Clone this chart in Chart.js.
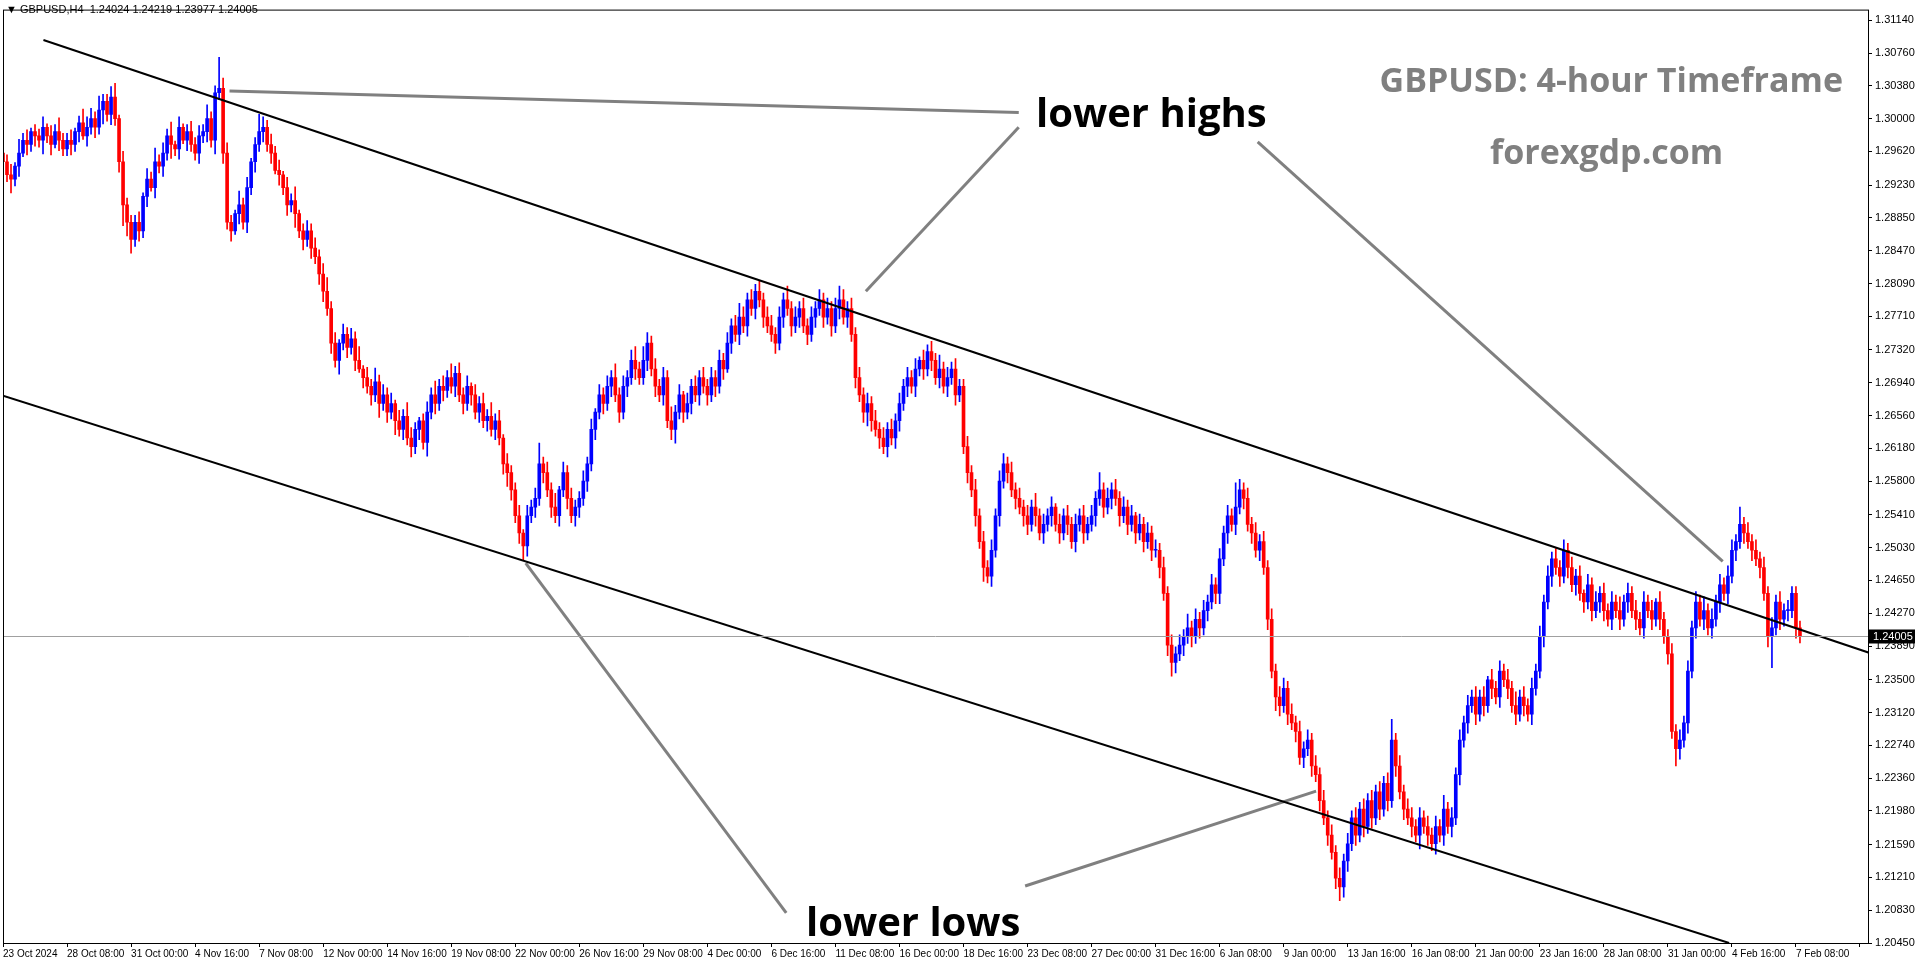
<!DOCTYPE html>
<html>
<head>
<meta charset="utf-8">
<script src="https://cdn.jsdelivr.net/npm/chart.js@4.4.1/dist/chart.umd.min.js"></script>
<style>
  html, body { margin: 0; padding: 0; background: #fff; overflow: hidden; }
  #wrap { position: relative; width: 1916px; height: 964px; }
  .lbl { position: absolute; font-family: "Open Sans", "DejaVu Sans", sans-serif; font-weight: bold; white-space: nowrap; }
  #hdr { position: absolute; left: 6px; top: 3px; font: 11px "Liberation Sans", sans-serif; color: #000; }
</style>
</head>
<body>
<div id="wrap">
  <canvas id="chart"></canvas>
  <div id="hdr">&#9660; GBPUSD,H4&nbsp; 1.24024 1.24219 1.23977 1.24005</div>
  <div class="lbl" style="left:1036px; top:84px; font-size:40px; color:#000;">lower highs</div>
  <div class="lbl" style="left:806px; top:893px; font-size:40px; color:#000;">lower lows</div>
  <div class="lbl" style="right:73px; top:56px; font-size:34px; color:#808080;">GBPUSD: 4-hour Timeframe</div>
  <div class="lbl" style="left:1490px; top:128px; font-size:34px; color:#808080;">forexgdp.com</div>
</div>
<script>
// ---- data (closes in pips, 1 pip = 0.0001) ----
const firstOpen = 12960;
const closes = [
  12950,12935,12930,12945,12960,12975,12970,12985,12980,12975,12990,12980,12970,12985,12975,12965,
  12975,12970,12985,12995,12980,12990,13000,12990,13010,13020,13005,13025,13000,12950,12900,12880,
  12860,12880,12870,12910,12930,12920,12950,12945,12960,12980,12970,12965,12990,12975,12985,12970,
  12960,12980,12985,13000,12975,13030,13035,12960,12880,12870,12890,12900,12880,12920,12950,12970,
  12985,12990,12970,12960,12940,12935,12920,12900,12905,12890,12870,12860,12870,12850,12840,12820,
  12800,12780,12740,12720,12740,12750,12735,12745,12720,12710,12700,12690,12680,12695,12670,12680,
  12660,12670,12650,12640,12655,12630,12620,12640,12650,12625,12660,12680,12670,12690,12685,12700,
  12690,12705,12680,12670,12690,12680,12660,12670,12650,12655,12640,12650,12630,12600,12590,12570,
  12540,12520,12505,12540,12550,12560,12600,12590,12570,12550,12540,12570,12590,12560,12540,12550,
  12560,12580,12600,12640,12660,12680,12670,12690,12700,12680,12660,12690,12700,12720,12710,12700,
  12720,12740,12710,12690,12680,12700,12650,12640,12660,12680,12660,12670,12690,12680,12700,12690,
  12680,12700,12690,12720,12710,12740,12760,12750,12770,12760,12790,12780,12800,12790,12770,12760,
  12750,12740,12770,12790,12780,12760,12770,12780,12760,12750,12770,12780,12790,12770,12780,12760,
  12780,12790,12770,12780,12750,12700,12680,12660,12670,12650,12640,12630,12620,12640,12630,12650,
  12670,12690,12700,12690,12710,12720,12710,12730,12720,12700,12710,12690,12700,12710,12680,12690,
  12620,12590,12570,12540,12510,12480,12470,12500,12540,12580,12600,12590,12570,12560,12550,12540,
  12530,12550,12540,12520,12530,12540,12550,12530,12520,12540,12530,12510,12530,12540,12520,12530,
  12540,12560,12570,12550,12560,12570,12560,12540,12550,12530,12540,12520,12530,12510,12520,12500,
  12500,12480,12450,12390,12370,12380,12390,12400,12410,12400,12420,12410,12430,12440,12460,12450,
  12490,12520,12540,12530,12550,12570,12560,12530,12520,12500,12510,12480,12420,12360,12330,12320,
  12340,12310,12300,12290,12260,12270,12280,12250,12240,12210,12190,12170,12150,12120,12110,12140,
  12160,12190,12170,12200,12180,12210,12190,12220,12200,12230,12210,12280,12250,12220,12200,12190,
  12180,12170,12190,12180,12170,12160,12180,12170,12200,12180,12190,12240,12280,12300,12320,12330,
  12310,12330,12320,12350,12340,12330,12360,12350,12340,12320,12310,12330,12320,12310,12340,12360,
  12400,12440,12470,12490,12480,12470,12500,12480,12460,12470,12450,12440,12460,12430,12440,12450,
  12430,12420,12440,12430,12420,12440,12450,12430,12420,12410,12440,12430,12420,12440,12420,12400,
  12380,12290,12270,12280,12300,12360,12410,12440,12420,12430,12410,12420,12440,12460,12450,12470,
  12500,12510,12530,12520,12510,12500,12490,12480,12450,12400,12410,12440,12420,12430,12430,12450,
  12410,12400.5
];
// wick lengths per bar, each digit = 4 pips
const upWicks =
  "3231423122313242" + "2312433242234132" + "2231324232413123" + "2324229332142312" +
  "5323231324123232" + "3423132324132423" + "2313243212324232" + "4232313232423132" +
  "2313236232413232" + "2323132324232342" + "4323232423132323" + "2323232343232323" +
  "3232423232323232" + "3432323232323232" + "3232313232423232" + "2323232323323232" +
  "3242323132323232" + "3252323232313232" + "3232323242323232" + "3232732323232323" +
  "3232323232323232" + "3232323232362323" + "3232323242323232" + "3231323232423232" +
  "3232323232313232" + "3232423232323132" + "2323232324232323" + "3252323232323232" + "22";
const downWicks =
  "3242313232423132" + "2323132324232364" + "4232313232423132" + "2323242323132323" +
  "2323132324232323" + "3232423231323242" + "3242323232423232" + "2323232323232343" +
  "2343232323232323" + "3232323232323232" + "2323232342323232" + "3232313232323232" +
  "2323232323232323" + "2323232343232323" + "3232323232323232" + "2323242323232323" +
  "3232323232323232" + "2323232323232323" + "2323432323232323" + "3232323232323243" +
  "2323232323232343" + "3232323232323232" + "3242323232323232" + "3232323232323232" +
  "2323232323232323" + "3232323232323232" + "3253232323232323" + "2323232323923232" + "32";

const xTickLabels = [
  "23 Oct 2024","28 Oct 08:00","31 Oct 00:00","4 Nov 16:00","7 Nov 08:00","12 Nov 00:00",
  "14 Nov 16:00","19 Nov 08:00","22 Nov 00:00","26 Nov 16:00","29 Nov 08:00","4 Dec 00:00",
  "6 Dec 16:00","11 Dec 08:00","16 Dec 00:00","18 Dec 16:00","23 Dec 08:00","27 Dec 00:00",
  "31 Dec 16:00","6 Jan 08:00","9 Jan 00:00","13 Jan 16:00","16 Jan 08:00","21 Jan 00:00",
  "23 Jan 16:00","28 Jan 08:00","31 Jan 00:00","4 Feb 16:00","7 Feb 08:00"
];
const yTickValues = [
  1.31140,1.30760,1.30380,1.30000,1.29620,1.29230,1.28850,1.28470,1.28090,1.27710,
  1.27320,1.26940,1.26560,1.26180,1.25800,1.25410,1.25030,1.24650,1.24270,1.23890,
  1.23500,1.23120,1.22740,1.22360,1.21980,1.21590,1.21210,1.20830,1.20450
];
const lastPrice = 1.24005;

// trend lines: [bar index, price]
const upperChannel = [[10.1, 1.3091], [466.4, 1.2381]];
const lowerChannel = [[0, 1.2679], [431.3, 1.2045]];
const grayLines = [
  [[56.6, 1.3032], [253.8, 1.3007]],
  [[253.8, 1.2990], [215.6, 1.2800]],
  [[313.5, 1.2973], [429.7, 1.2487]],
  [[130.6, 1.2485], [195.7, 1.2080]],
  [[255.4, 1.2111], [328.1, 1.2221]]
];

const barsPerLabel = 16;
const totalSlots = 467;

// ---- build candles ----
const wickData = [], bodyData = [], colors = [];
let prevClose = firstOpen;
closes.forEach((c, i) => {
  const o = prevClose;
  const up = Number(upWicks[i] || 2) * 4;
  const dn = Number(downWicks[i] || 2) * 4;
  const hi = Math.max(o, c) + up, lo = Math.min(o, c) - dn;
  wickData.push([lo / 10000, hi / 10000]);
  bodyData.push([o / 10000, c / 10000]);
  colors.push(c >= o ? '#0000ff' : '#ff0000');
  prevClose = c;
});

const labels = [];
for (let i = 0; i < totalSlots; i++) {
  labels.push(i % barsPerLabel === 0 ? (xTickLabels[i / barsPerLabel] || '') : '');
}

const lineSet = (pts, color, width) => ({
  type: 'line',
  xAxisID: 'xl',
  data: pts.map(p => ({ x: p[0], y: p[1] })),
  borderColor: color,
  borderWidth: width,
  pointRadius: 0,
  order: 0
});

const frame = {
  id: 'frame',
  afterDatasetsDraw(chart) {
    const { ctx, chartArea: a, scales } = chart;
    const y = Math.round(scales.y.getPixelForValue(lastPrice)) + 0.5;
    ctx.save();
    ctx.strokeStyle = '#a0a0a0';
    ctx.lineWidth = 1;
    ctx.beginPath(); ctx.moveTo(a.left, y); ctx.lineTo(a.right, y); ctx.stroke();
    ctx.strokeStyle = '#000';
    ctx.strokeRect(a.left + 0.5, a.top + 0.5, a.right - a.left, a.bottom - a.top);
    ctx.fillStyle = '#000';
    ctx.fillRect(a.right + 1, y - 7, 46, 14);
    ctx.fillStyle = '#fff';
    ctx.font = '11px "Liberation Sans"';
    ctx.textBaseline = 'middle';
    ctx.fillText(lastPrice.toFixed(5), a.right + 5, y);
    ctx.restore();
  }
};

new Chart(document.getElementById('chart'), {
  type: 'bar',
  data: {
    labels: labels,
    datasets: [
      lineSet(upperChannel, '#000', 2),
      lineSet(lowerChannel, '#000', 2),
      ...grayLines.map(l => lineSet(l, '#808080', 3)),
      { data: bodyData, backgroundColor: colors, barThickness: 3, grouped: false, minBarLength: 1, order: 1 },
      { data: wickData, backgroundColor: colors, barThickness: 1, grouped: false, order: 2 }
    ]
  },
  options: {
    responsive: true,
    maintainAspectRatio: false,
    animation: false,
    devicePixelRatio: 1,
    layout: { padding: { left: 3, top: 3, right: 0, bottom: 0 } },
    plugins: { legend: { display: false }, tooltip: { enabled: false } },
    scales: {
      x: {
        offset: false,
        grid: {
          offset: false,
          drawOnChartArea: false,
          tickLength: 4,
          color: ctx => (ctx.index % barsPerLabel === 0 ? '#000' : 'rgba(0,0,0,0)')
        },
        border: { display: false },
        ticks: {
          autoSkip: false, maxRotation: 0, padding: 1,
          color: '#000', font: { family: 'Liberation Sans', size: 10 },
          align: 'start',
          callback: (v, i) => labels[i]
        },
        afterFit: s => { s.height = 21; }
      },
      xl: {
        type: 'linear',
        display: false,
        offset: false,
        grid: { offset: false },
        min: 0,
        max: totalSlots - 1
      },
      y: {
        position: 'right',
        min: 1.2045,
        max: 1.31263,
        afterBuildTicks: axis => { axis.ticks = yTickValues.map(v => ({ value: v })); },
        grid: { drawOnChartArea: false, tickLength: 4, color: '#000' },
        border: { display: false },
        ticks: {
          color: '#000', padding: 3,
          font: { family: 'Liberation Sans', size: 11 },
          callback: v => Number(v).toFixed(5)
        },
        afterFit: s => { s.width = 48; }
      }
    }
  },
  plugins: [frame]
});
</script>
</body>
</html>
